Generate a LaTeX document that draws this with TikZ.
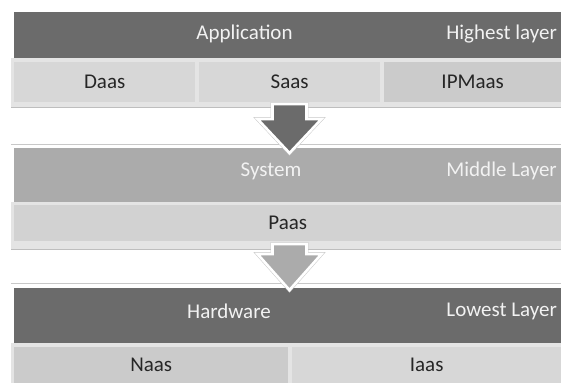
\documentclass[tikz,border=0pt]{standalone}
\usepackage{fontspec}
\setmainfont{Carlito}
\usetikzlibrary{calc}
\definecolor{darkbar}{RGB}{107,107,107}
\definecolor{midbar}{RGB}{171,171,171}
\definecolor{cellA}{RGB}{215,215,215}
\definecolor{cellB}{RGB}{203,203,203}
\definecolor{cellP}{RGB}{210,210,210}
\definecolor{framec}{RGB}{228,228,228}
\definecolor{edgec}{RGB}{190,190,190}
\definecolor{rulec}{RGB}{200,200,200}
\definecolor{ink}{RGB}{38,38,38}
\definecolor{paper}{RGB}{242,242,242}
\tikzset{
  bar/.style={rectangle, inner sep=0, anchor=north west, draw=none},
  framebox/.style={rectangle, inner sep=0, anchor=north west, fill=framec, draw=none},
  cell/.style={rectangle, inner sep=0, anchor=north west, text=ink, font=\fontsize{21}{24}\selectfont},
  bartext/.style={inner sep=0, text=paper, font=\fontsize{21}{24}\selectfont},
  blockarrow/.style={draw=white, line width=2.6pt, line join=miter,
    preaction={draw=rulec, line width=3.6pt, line join=miter}},
  sepline/.style={draw=rulec, line width=0.8pt}
}
\begin{document}
\begin{tikzpicture}[x=1pt,y=-1pt]
\useasboundingbox (0,0) rectangle (561,383);
\fill[white] (0,0) rectangle (561,383);

% ---- top layer
\node[bar, fill=darkbar, minimum width=547, minimum height=46] (appbar) at (14,12) {};
\node[framebox, minimum width=550, minimum height=49] (appframe) at (11,58) {};
\draw[edgec, line width=0.8pt] (appframe.south west) -- (appframe.south east);
\node[cell, fill=cellA, minimum width=181, minimum height=40] (daas) at (14,62) {Daas};
\node[cell, fill=cellA, minimum width=181, minimum height=40] (saas) at (199,62) {Saas};
\node[cell, fill=cellB, minimum width=177, minimum height=40] (ipmaas) at (384,62) {IPMaas};
\node[bartext] (application) at (244.5,34) {Application};
\node[bartext, anchor=east] (highest) at (557,34) {Highest layer};

% ---- middle layer
\draw[sepline] (11,144) coordinate (s1a) -- (561,144) coordinate (s1b);
\node[bar, fill=midbar, minimum width=547, minimum height=54] (sysbar) at (14,148) {};
\node[framebox, minimum width=550, minimum height=47] (sysframe) at (11,202) {};
\draw[edgec, line width=0.8pt] (sysframe.south west) -- (sysframe.south east);
\node[cell, fill=cellP, minimum width=547, minimum height=36] (paas) at (14,205) {Paas};
\node[bartext] (system) at (271,171) {System};
\node[bartext, anchor=east] (middle) at (557,171) {Middle Layer};

% ---- lowest layer
\draw[sepline] (11,283) coordinate (s2a) -- (561,283) coordinate (s2b);
\node[bar, fill=darkbar, minimum width=547, minimum height=55] (hwbar) at (14,288) {};
\node[framebox, minimum width=550, minimum height=40] (hwframe) at (11,343) {};
\node[cell, fill=cellB, minimum width=274, minimum height=36] (naas) at (14,347) {Naas};
\node[cell, fill=cellA, minimum width=269, minimum height=36] (iaas) at (292,347) {Iaas};
\node[bartext] (hardware) at (229,311) {Hardware};
\node[bartext, anchor=east] (lowest) at (557,311) {Lowest Layer};

% ---- block arrows
\coordinate (a1s) at (289.5,104);
\coordinate (a1t) at (289.5,153);
\draw[blockarrow, fill=darkbar]
  ($(a1s)+(-17,0)$) -- ($(a1s)+(17,0)$) -- ($(a1t)+(17,-34)$) -- ($(a1t)+(32,-34)$)
  -- (a1t) -- ($(a1t)+(-32,-34)$) -- ($(a1t)+(-17,-34)$) -- cycle;
\coordinate (a2s) at (289.5,244);
\coordinate (a2t) at (289.5,290);
\draw[blockarrow, fill=midbar]
  ($(a2s)+(-17,0)$) -- ($(a2s)+(17,0)$) -- ($(a2t)+(17,-36)$) -- ($(a2t)+(32,-36)$)
  -- (a2t) -- ($(a2t)+(-32,-36)$) -- ($(a2t)+(-17,-36)$) -- cycle;
\end{tikzpicture}
\end{document}
